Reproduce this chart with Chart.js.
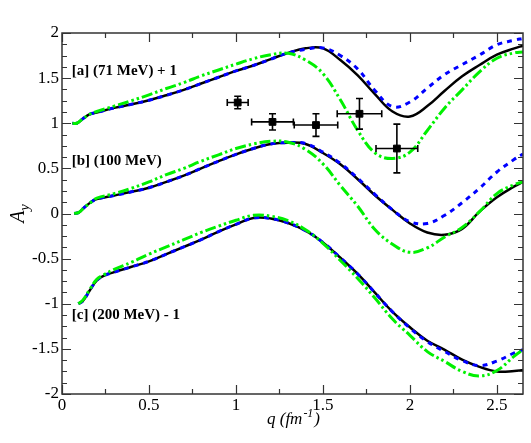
<!DOCTYPE html>
<html><head><meta charset="utf-8">
<script src="https://cdn.jsdelivr.net/npm/chart.js@4.4.0/dist/chart.umd.min.js"></script>
<style>html,body{margin:0;padding:0;background:#fff;}#wrap{width:531px;height:443px;}</style>
</head><body><div id="wrap"><canvas id="c" width="531" height="443"></canvas></div>
<script>
// ---- data ----
const xTicks = [0, 0.5, 1, 1.5, 2, 2.5];
const yTicks = [-2, -1.5, -1, -0.5, 0, 0.5, 1, 1.5, 2];

const qA = [0.06,0.085,0.12,0.16,0.2,0.3,0.4,0.5,0.6,0.7,0.8,0.9,1.0,1.1,1.2,1.3,1.4,1.5,1.6,1.7,1.8,1.9,2.0,2.1,2.2,2.3,2.4,2.5,2.6,2.65];
const blackA = [1.00,1.00,1.05,1.10,1.12,1.17,1.21,1.255,1.31,1.37,1.44,1.51,1.58,1.64,1.71,1.78,1.83,1.83,1.70,1.53,1.32,1.13,1.075,1.19,1.36,1.52,1.645,1.76,1.83,1.86];
const blueA  = [1.00,1.00,1.05,1.10,1.12,1.17,1.21,1.255,1.31,1.37,1.44,1.51,1.58,1.64,1.71,1.78,1.82,1.835,1.75,1.60,1.36,1.185,1.235,1.39,1.54,1.65,1.756,1.87,1.92,1.94];
const greenA = [1.00,1.00,1.05,1.10,1.13,1.19,1.25,1.315,1.385,1.45,1.525,1.59,1.655,1.715,1.76,1.775,1.70,1.55,1.26,0.92,0.67,0.61,0.68,0.92,1.17,1.37,1.57,1.72,1.78,1.79];

const qB = [0.07,0.095,0.13,0.17,0.2,0.3,0.4,0.5,0.6,0.7,0.8,0.9,1.0,1.1,1.2,1.3,1.4,1.5,1.6,1.7,1.8,1.9,2.0,2.1,2.2,2.3,2.4,2.5,2.6,2.65];
const blackB = [0.00,0.01,0.07,0.13,0.16,0.20,0.24,0.285,0.35,0.42,0.50,0.58,0.655,0.72,0.77,0.785,0.77,0.67,0.545,0.38,0.20,0.04,-0.11,-0.21,-0.235,-0.17,0.02,0.18,0.30,0.35];
const blueB  = [0.00,0.01,0.07,0.13,0.16,0.20,0.24,0.285,0.35,0.42,0.50,0.58,0.655,0.72,0.77,0.785,0.775,0.68,0.555,0.39,0.21,0.04,-0.09,-0.11,-0.02,0.12,0.28,0.46,0.60,0.66];
const greenB = [0.00,0.01,0.07,0.13,0.17,0.22,0.28,0.35,0.43,0.50,0.58,0.65,0.72,0.77,0.80,0.79,0.71,0.55,0.31,0.08,-0.18,-0.34,-0.43,-0.38,-0.26,-0.155,0.02,0.22,0.32,0.35];

const qC = [0.094,0.12,0.16,0.2,0.24,0.3,0.4,0.5,0.6,0.7,0.8,0.9,1.0,1.1,1.2,1.3,1.4,1.5,1.6,1.7,1.8,1.9,2.0,2.1,2.2,2.3,2.4,2.5,2.6,2.65];
const blackC = [-1.00,-0.97,-0.85,-0.74,-0.69,-0.65,-0.59,-0.53,-0.45,-0.37,-0.29,-0.20,-0.12,-0.05,-0.055,-0.105,-0.19,-0.32,-0.49,-0.67,-0.88,-1.09,-1.26,-1.41,-1.51,-1.62,-1.70,-1.75,-1.745,-1.735];
const blueC  = [-1.00,-0.97,-0.85,-0.74,-0.69,-0.65,-0.59,-0.53,-0.45,-0.37,-0.29,-0.20,-0.12,-0.05,-0.055,-0.105,-0.19,-0.32,-0.49,-0.67,-0.88,-1.09,-1.27,-1.42,-1.53,-1.63,-1.685,-1.635,-1.545,-1.51];
const greenC = [-1.00,-0.96,-0.84,-0.73,-0.68,-0.62,-0.54,-0.45,-0.37,-0.29,-0.21,-0.14,-0.075,-0.02,-0.03,-0.08,-0.18,-0.33,-0.52,-0.72,-0.94,-1.17,-1.35,-1.53,-1.64,-1.75,-1.80,-1.74,-1.58,-1.51];

const qPts   = [1.01, 1.21, 1.46, 1.71, 1.925];
const ayPts  = [1.23, 1.015, 0.98, 1.105, 0.72];
const qErr   = [0.06, 0.12, 0.125, 0.128, 0.12];
const ayErr  = [0.07, 0.09, 0.125, 0.17, 0.27];

const groupLabels = ['[a] (71 MeV) + 1', '[b] (100 MeV)', '[c] (200 MeV) - 1'];
const labelQ  = [0.056, 0.056, 0.056];
const labelAy = [1.573, 0.582, -1.13];

// ---- helpers ----
const toXY = (xs, ys) => xs.map((x, i) => ({x, y: ys[i]}));
const BLACK = '#000000', BLUE = '#0000ff', GREEN = '#00f000';
function line(xs, ys, kind) {
  const base = {data: toXY(xs, ys), showLine: true, pointRadius: 0, tension: 0.4, fill: false};
  if (kind === 'black') return Object.assign(base, {borderColor: BLACK, borderWidth: 2.5});
  if (kind === 'blue') return Object.assign(base, {borderColor: BLUE, borderWidth: 3, borderDash: [5, 5]});
  return Object.assign(base, {borderColor: GREEN, borderWidth: 3, borderDash: [11, 3, 2.5, 3, 2.5, 3]});
}

const SERIF = '"Liberation Serif", "Times New Roman", serif';

const decor = {
  id: 'decor',
  afterDatasetsDraw(chart) {
    const ctx = chart.ctx, xs = chart.scales.x, ys = chart.scales.y;
    ctx.save();
    ctx.strokeStyle = '#000'; ctx.lineWidth = 1.6; ctx.setLineDash([]);
    for (let i = 0; i < qPts.length; i++) {
      const px = xs.getPixelForValue(qPts[i]), py = ys.getPixelForValue(ayPts[i]);
      const x0 = xs.getPixelForValue(qPts[i] - qErr[i]), x1 = xs.getPixelForValue(qPts[i] + qErr[i]);
      const y0 = ys.getPixelForValue(ayPts[i] - ayErr[i]), y1 = ys.getPixelForValue(ayPts[i] + ayErr[i]);
      ctx.beginPath();
      ctx.moveTo(x0, py); ctx.lineTo(x1, py);
      ctx.moveTo(px, y0); ctx.lineTo(px, y1);
      ctx.moveTo(x0, py - 3.5); ctx.lineTo(x0, py + 3.5);
      ctx.moveTo(x1, py - 3.5); ctx.lineTo(x1, py + 3.5);
      ctx.moveTo(px - 3.5, y0); ctx.lineTo(px + 3.5, y0);
      ctx.moveTo(px - 3.5, y1); ctx.lineTo(px + 3.5, y1);
      ctx.stroke();
    }
    ctx.restore();
  },
  afterDraw(chart) {
    const ctx = chart.ctx, a = chart.chartArea, xs = chart.scales.x, ys = chart.scales.y;
    ctx.save();
    ctx.setLineDash([]);
    ctx.strokeStyle = '#333'; ctx.lineWidth = 1.5;
    ctx.strokeRect(a.left, a.top, a.right - a.left, a.bottom - a.top);
    ctx.lineWidth = 1.2;
    ctx.beginPath();
    for (let v = 0; v <= 2.65; v += 0.25) {
      const p = Math.round(xs.getPixelForValue(v)) + 0.5;
      const major = Math.abs(v / 0.5 - Math.round(v / 0.5)) < 1e-6;
      const L = major ? 9 : 5;
      ctx.moveTo(p, a.bottom); ctx.lineTo(p, a.bottom - L);
      ctx.moveTo(p, a.top); ctx.lineTo(p, a.top + L);
    }
    for (let k = -16; k <= 16; k++) {
      const v = k * 0.125;
      const p = Math.round(ys.getPixelForValue(v)) + 0.5;
      const L = (k % 4 === 0) ? 9 : 5;
      ctx.moveTo(a.left, p); ctx.lineTo(a.left + L, p);
      ctx.moveTo(a.right, p); ctx.lineTo(a.right - L, p);
    }
    ctx.stroke();
    // group labels
    ctx.fillStyle = '#000';
    ctx.font = 'bold 15px ' + SERIF;
    ctx.textBaseline = 'middle'; ctx.textAlign = 'left';
    for (let i = 0; i < groupLabels.length; i++) {
      ctx.fillText(groupLabels[i], xs.getPixelForValue(labelQ[i]), ys.getPixelForValue(labelAy[i]));
    }
    // x title
    const cx = (a.left + a.right) / 2, by = 424;
    ctx.textBaseline = 'alphabetic';
    const f1 = 'italic 17px ' + SERIF, f2 = 'italic 12px ' + SERIF;
    ctx.font = f1; const w1 = ctx.measureText('q (fm').width, w3 = ctx.measureText(')').width;
    ctx.font = f2; const w2 = ctx.measureText('-1').width;
    let sx = cx - (w1 + w2 + w3) / 2;
    ctx.font = f1; ctx.fillText('q (fm', sx, by);
    ctx.font = f2; ctx.fillText('-1', sx + w1 + 1, by - 7);
    ctx.font = f1; ctx.fillText(')', sx + w1 + w2 + 2, by);
    // y title
    ctx.translate(24, (a.top + a.bottom) / 2);
    ctx.rotate(-Math.PI / 2);
    ctx.font = 'italic 20px ' + SERIF;
    const wa = ctx.measureText('A').width;
    ctx.font = 'italic 14px ' + SERIF;
    const wy = ctx.measureText('y').width;
    const st = -(wa + wy) / 2;
    ctx.font = 'italic 20px ' + SERIF; ctx.fillText('A', st, 0);
    ctx.font = 'italic 14px ' + SERIF; ctx.fillText('y', st + wa, 5);
    ctx.restore();
  }
};

new Chart(document.getElementById('c'), {
  type: 'scatter',
  data: {
    datasets: [
      {data: toXY(qPts, ayPts), pointStyle: 'rect', pointRadius: 4.8, backgroundColor: '#000', borderColor: '#000', showLine: false},
      line(qA, greenA, 'green'), line(qB, greenB, 'green'), line(qC, greenC, 'green'),
      line(qA, blueA, 'blue'), line(qB, blueB, 'blue'), line(qC, blueC, 'blue'),
      line(qA, blackA, 'black'), line(qB, blackB, 'black'), line(qC, blackC, 'black')
    ]
  },
  options: {
    responsive: false, animation: false,
    layout: {padding: {top: 33, right: 8, left: 0, bottom: 0}},
    plugins: {legend: {display: false}, tooltip: {enabled: false}},
    scales: {
      x: {
        type: 'linear', min: 0, max: 2.65,
        afterBuildTicks: s => { s.ticks = xTicks.map(v => ({value: v})); },
        afterFit: s => { s.height = 49; },
        grid: {display: false, drawTicks: false}, border: {display: false},
        ticks: {color: '#000', font: {family: SERIF, size: 17}, padding: 1, maxRotation: 0, callback: v => String(v)}
      },
      y: {
        type: 'linear', min: -2, max: 2,
        afterBuildTicks: s => { s.ticks = yTicks.map(v => ({value: v})); },
        afterFit: s => { s.width = 62; },
        grid: {display: false, drawTicks: false}, border: {display: false},
        ticks: {color: '#000', font: {family: SERIF, size: 17}, padding: 3, callback: v => String(v)}
      }
    }
  },
  plugins: [decor]
});
</script></body></html>
